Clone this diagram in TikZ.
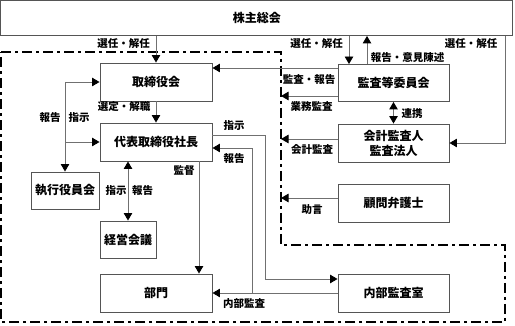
\documentclass[tikz,border=0pt]{standalone}
\usepackage{fontspec}
\newfontfamily\jp{Noto Sans CJK JP}
\usetikzlibrary{arrows.meta}
\definecolor{boxgray}{HTML}{555555}
\definecolor{linegray}{HTML}{707070}
\begin{document}
\begin{tikzpicture}[x=1pt,y=-1pt,
  box/.style={draw=boxgray, line width=0.9pt, fill=white, inner sep=0pt, align=center,
    font=\jp\bfseries\fontsize{12}{15}\selectfont},
  conn/.style={draw=linegray, line width=0.9pt},
  arr/.style={-{Triangle[length=7.5pt,width=8.5pt,color=black]}},
  darr/.style={{Triangle[length=7.5pt,width=8.5pt,color=black]}-{Triangle[length=7.5pt,width=8.5pt,color=black]}},
  lbl/.style={inner sep=0pt, font=\jp\bfseries\fontsize{10.5}{12}\selectfont},
  bound/.style={draw=black, line width=1.8pt, dash pattern=on 10pt off 4pt on 3pt off 4pt}]
\useasboundingbox (0,0) rectangle (515,326);
% boundary
\draw[bound] (1,52) -- (281,52) -- (281,245) -- (505,245) -- (505,322) -- (1,322) -- cycle;
% boxes
\node[box, minimum width=512pt, minimum height=35pt] (sh) at (256.8,18) {株主総会};
\node[box, minimum width=112pt, minimum height=38pt] (tk) at (156,82) {取締役会};
\node[box, minimum width=111pt, minimum height=37pt] (kansa) at (393.5,83) {監査等委員会};
\node[box, minimum width=112pt, minimum height=38pt] (pres) at (156,142) {代表取締役社長};
\node[box, minimum width=68pt, minimum height=37pt] (exe) at (65,190.5) {執行役員会};
\node[box, minimum width=56pt, minimum height=37pt] (mtg) at (128,239.5) {経営会議};
\node[box, minimum width=112pt, minimum height=38pt] (bu) at (156,293) {部門};
\node[box, minimum width=111pt, minimum height=38pt] (naibu) at (393.5,293) {内部監査室};
\node[box, minimum width=111pt, minimum height=38pt] (kaikei) at (393.5,143) {会計監査人\\監査法人};
\node[box, minimum width=111pt, minimum height=38pt] (bengo) at (393.5,203) {顧問弁護士};
% helper coordinates
\coordinate (xa) at (349,0);
\coordinate (xb) at (367,0);
\coordinate (xr) at (505,0);
\coordinate (bx) at (281,0);
\coordinate (y68) at (0,68);
\coordinate (y96) at (0,96);
\coordinate (y139) at (0,139);
\coordinate (y198) at (0,198);
\coordinate (x199) at (199,0);
\coordinate (p1) at (265,135);
\coordinate (p2) at (265,279);
\coordinate (j) at (252,293);
\coordinate (q) at (252,148);
% connectors
\draw[conn,arr] (sh.south -| tk.north) -- (tk.north);
\draw[conn,arr] (sh.south -| xa) -- (kansa.north -| xa);
\draw[conn,arr] (kansa.north -| xb) -- (sh.south -| xb);
\draw[conn,arr] (sh.south -| xr) |- (kaikei.east);
\draw[conn,arr] (kansa.west |- y68) -- (tk.east |- y68);
\draw[conn,arr] (kansa.west |- y96) -- (bx |- y96);
\draw[conn,darr] (kansa.south) -- (kaikei.north);
\draw[conn,arr] (kaikei.west |- y139) -- (bx |- y139);
\draw[conn,arr] (bengo.west |- y198) -- (bx |- y198);
\draw[conn,arr] (tk.south) -- (pres.north);
\draw[conn,arr] (exe.north |- tk.west) -- (tk.west);
\draw[conn,arr] (exe.north |- tk.west) -- (exe.north);
\draw[conn,arr] (exe.north |- pres.west) -- (pres.west);
\draw[conn,darr] (pres.south -| mtg.north) -- (mtg.north);
\draw[conn,arr] (pres.south -| x199) -- (bu.north -| x199);
\draw[conn,arr] (pres.east |- p1) -- (p1) -- (p2) -- (naibu.west |- p2);
\draw[conn,arr] (naibu.west |- j) -- (bu.east |- j);
\draw[conn,arr] (j) -- (q) -- (pres.east |- q);
% labels
\node[lbl] (l1) at (123.5,44) {選任・解任};
\node[lbl] (l2) at (316.5,44) {選任・解任};
\node[lbl] (l3) at (471,44) {選任・解任};
\node[lbl] (l4) at (407.5,58) {報告・意見陳述};
\node[lbl] (l5) at (309,80) {監査・報告};
\node[lbl] (l6) at (311.5,107) {業務監査};
\node[lbl] (l7) at (412,114) {連携};
\node[lbl] (l8) at (312,150) {会計監査};
\node[lbl] (l9) at (312,210) {助言};
\node[lbl] (l10) at (124,107) {選定・解職};
\node[lbl] (l11) at (50,118) {報告};
\node[lbl] (l12) at (79,118) {指示};
\node[lbl] (l13) at (234,126) {指示};
\node[lbl] (l14) at (234,159) {報告};
\node[lbl] (l15) at (184,171) {監督};
\node[lbl] (l16) at (116,191) {指示};
\node[lbl] (l17) at (142.5,191) {報告};
\node[lbl] (l18) at (244,304) {内部監査};
\end{tikzpicture}
\end{document}
